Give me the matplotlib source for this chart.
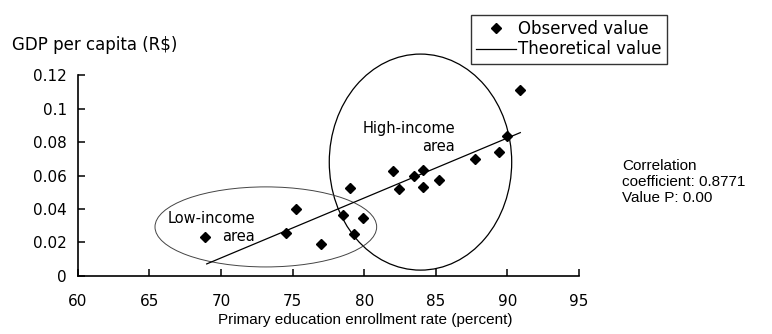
import matplotlib
matplotlib.use("Agg")
import matplotlib.pyplot as plt
from matplotlib.patches import Ellipse

enroll_rate = [68.9, 74.55, 75.25, 77.0, 78.5, 79.0, 79.27, 79.9, 82.04, 82.46,
               83.5, 84.13, 84.13, 85.2, 87.76, 89.44, 90.0, 90.89]
gdp_per_capita = [0.0231, 0.0255, 0.0398, 0.0191, 0.0364, 0.0527, 0.0249, 0.0348, 0.0627, 0.0518,
                  0.0599, 0.0633, 0.053, 0.0573, 0.0697, 0.0738, 0.0836, 0.111]

# fitted line ends
theo_x = [69.0, 90.9]
theo_y = [0.0072, 0.0856]

x_ticks = [60, 65, 70, 75, 80, 85, 90, 95]
y_ticks = [0, 0.02, 0.04, 0.06, 0.08, 0.1, 0.12]
y_tick_labels = ["0", "0.02", "0.04", "0.06", "0.08", "0.1", "0.12"]

plt.rcParams["font.family"] = ["Liberation Sans", "DejaVu Sans"]
wide = "DejaVu Sans"

fig = plt.figure(figsize=(7.72, 3.34), dpi=100)
ax = fig.add_axes([0.1008, 0.1737, 0.6492, 0.6017])

ax.plot(enroll_rate, gdp_per_capita, linestyle="none", marker="D", ms=5.5,
        color="black", label="Observed value")
ax.plot(theo_x, theo_y, color="black", lw=0.9, label="Theoretical value")

# income areas
ax.add_patch(Ellipse((83.93, 0.068), 12.74, 0.129, fill=False, lw=0.9,
                     edgecolor="black", clip_on=False))
ax.add_patch(Ellipse((73.13, 0.0293), 15.48, 0.0478, fill=False, lw=0.7,
                     edgecolor="#444444", clip_on=False))
ax.text(86.34, 0.0827, "High-income\narea", ha="right", va="center",
        fontsize=10.5, family=wide, linespacing=1.2)
ax.text(72.37, 0.029, "Low-income\narea", ha="right", va="center",
        fontsize=10.5, family=wide, linespacing=1.2)

ax.set_xlim(60, 95)
ax.set_ylim(0, 0.12)
ax.set_xticks(x_ticks)
ax.set_yticks(y_ticks)
ax.set_yticklabels(y_tick_labels)
for s in ["top", "right"]:
    ax.spines[s].set_visible(False)
for s in ["left", "bottom"]:
    ax.spines[s].set_linewidth(1.2)
ax.tick_params(axis="both", direction="in", length=5, width=1.1)
ax.tick_params(axis="x", pad=13)
ax.tick_params(axis="y", pad=8)
for lbl in ax.get_xticklabels() + ax.get_yticklabels():
    lbl.set_fontfamily(wide)
    lbl.set_fontsize(11)

fig.text(365 / 772, 1 - 320 / 334, "Primary education enrollment rate (percent)",
         fontsize=11, ha="center", va="center")
fig.text(12 / 772, 1 - 45 / 334, "GDP per capita (R$)", fontsize=12,
         family=wide, va="center")

fig.text(622 / 772, 1 - 182 / 334, "Correlation\ncoefficient: 0.8771\nValue P: 0.00",
         fontsize=11, va="center", linespacing=1.15)

leg = fig.legend(loc="upper right", bbox_to_anchor=(667 / 772, 1 - 15 / 334),
                 borderaxespad=0, prop={"family": wide, "size": 12},
                 frameon=True, fancybox=False, handlelength=2.4,
                 handletextpad=0.15, borderpad=0.3, labelspacing=0.15)
leg.get_frame().set_edgecolor("black")
leg.get_frame().set_linewidth(1.0)

fig.savefig("out.png", dpi=100)
